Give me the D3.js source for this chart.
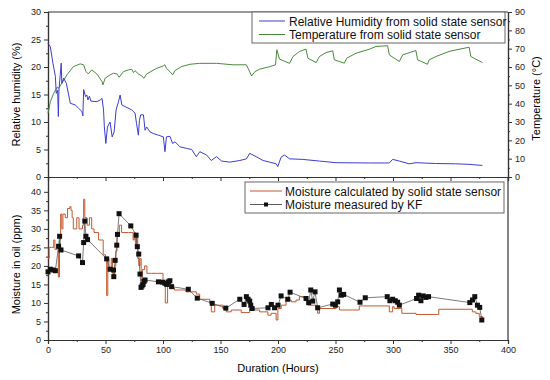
<!DOCTYPE html>
<html>
<head>
<meta charset="utf-8">
<script src="https://cdn.jsdelivr.net/npm/d3@7"></script>
<style>
  body { margin: 0; background: #fff; }
  svg { font-family: "Liberation Sans", Arial, sans-serif; }
</style>
</head>
<body>
<div id="chart"></div>
<script>
// relative humidity (%) vs hours
var rhHours = [0, 2, 4.3, 6.4, 7.2, 8.4, 9, 9.5, 11.5, 12, 13.6, 16, 18, 19.4, 23.7, 26.6, 29.5, 30.3, 31, 32.7, 33.8, 34.7, 36, 37.3, 42.5, 45.4, 47, 48.3, 49, 50.3, 51.7, 54, 55.8, 57.5, 59.2, 61.3, 62.7, 64.2, 67, 72.8, 75.7, 77, 78.6, 79.5, 80.6, 83, 84.4, 85.8, 88.7, 91.6, 96, 100.3, 101.7, 103, 106, 108.4, 110.4, 114.7, 120.5, 124.9, 129, 132, 137.9, 142, 146.5, 151, 158, 166.8, 172.5, 175.4, 181, 187, 192.8, 198.4, 199.8, 202.7, 205.6, 210, 221.5, 236, 250.5, 279.4, 296.8, 299.7, 305.5, 314, 320, 337, 354.5, 366, 377.7];
var rhValues = [24.3, 23.7, 20.7, 18.3, 15.2, 15.8, 11, 15.8, 20.7, 17, 18, 17, 14.9, 13.4, 13.1, 12.5, 11.9, 11.1, 15.9, 14.6, 14.9, 14, 14.7, 13.8, 13.7, 14, 14.3, 12.2, 9.1, 6.1, 9.1, 10, 7.3, 8.2, 12.2, 13.7, 14.9, 13.1, 12.8, 12.2, 11.6, 9.7, 7.6, 10.3, 11.3, 11.3, 8.5, 9.1, 8.2, 7.9, 7.6, 7.3, 4.6, 7.3, 7.4, 6.1, 6.4, 5.5, 5.2, 5, 3.7, 4.6, 4, 3, 3.7, 2.9, 2.7, 3, 3.3, 4.3, 3.7, 3, 2.7, 2.4, 1.9, 3.6, 4, 3.3, 3.2, 2.9, 2.6, 2.55, 2.55, 3.2, 2.9, 2.4, 2.6, 2.45, 2.4, 2.3, 2.1];

// temperature (°C) vs hours
var tHours = [0, 2, 4.9, 7.8, 9.2, 12, 16.5, 22, 28, 31, 33, 35, 38, 42.5, 47, 47.7, 49.7, 54, 57, 60, 61.8, 65.6, 70, 72.8, 74.3, 75.7, 78.6, 81.5, 83.5, 85.8, 94.5, 100.3, 101.7, 103, 106, 108.4, 110.4, 116, 123.4, 132, 146.5, 161, 172.5, 174, 177, 180, 184, 192.8, 197.8, 199, 201.3, 210, 213, 218.7, 224.4, 226, 233.2, 236, 241.8, 247.6, 249, 257.7, 259.7, 267.8, 279.4, 285.2, 295.3, 296.8, 305.5, 308.4, 319.9, 321.4, 330, 331.5, 337.3, 348.8, 366.2, 367.7, 377.8];
var tValues = [34.7, 41, 45.6, 48.9, 48.4, 51.1, 55.7, 60.2, 61.7, 61.2, 57.5, 56.2, 58.4, 56.2, 52, 50.2, 53.9, 55.7, 56.6, 56.2, 54.4, 57.5, 58.4, 58.8, 57, 58, 56.2, 55.1, 53.9, 56.2, 59.3, 60.6, 61.2, 59.3, 57.5, 55.7, 58, 60.2, 61.5, 62, 62, 61.2, 61.2, 59.3, 55.1, 57.5, 58.8, 60.2, 61.2, 69.4, 64.3, 62, 65.7, 68.5, 69.7, 64.8, 62.4, 65.7, 67.9, 68.8, 63.9, 62.1, 64.8, 67.5, 69.7, 71.2, 71.6, 66.6, 63, 66.6, 69, 63.9, 61.5, 63.9, 65.7, 68.5, 70.8, 65.7, 62.4];

// moisture calculated by sensor (ppm)
var calcHours = [0, 1, 3, 5, 6, 8, 9, 10, 11, 12, 13, 15, 17, 19, 20, 21, 22, 25, 27, 30, 31, 32, 34, 36, 38, 40, 44, 48, 50, 51, 52, 53, 55, 56, 57, 58, 59, 60, 62, 64, 70, 73, 74, 75, 76, 77, 78, 79, 80, 81, 82, 84, 86, 90, 95, 100, 101, 102, 104, 106, 110, 114.5, 120, 125, 129, 131.9, 140.6, 142, 145, 152, 155, 159.3, 168, 175.3, 179.6, 184, 191.2, 194, 198.4, 199.9, 202.8, 207, 211.4, 215.7, 218.6, 223, 225.9, 233, 234.5, 236, 244.7, 250.5, 253.4, 265, 270.7, 293.9, 296.8, 299.7, 301, 306.9, 307.7, 320, 339, 339.8, 367.7, 369, 372, 375, 378];
var calcValues = [22, 25, 25, 27, 24.5, 25, 17, 27, 34, 30, 34, 33, 35.5, 36, 35, 33, 30, 33, 30, 31, 38, 33, 31, 33, 30, 29, 27, 23, 22, 12, 22, 19, 22, 18, 17, 20, 24, 28, 31, 29, 29, 29, 27, 29, 25, 28, 22, 20, 22, 16, 19, 20, 18, 18, 18, 16, 15, 10, 16, 14, 13.5, 13.5, 13, 13, 12.4, 11, 9.9, 7.6, 9.4, 8.5, 7.6, 8.1, 7.4, 8.5, 8.1, 7.6, 6.7, 7.2, 5.4, 8.5, 9.4, 10.8, 10.3, 10.8, 11.7, 10.8, 9.4, 9, 7.2, 8.5, 8.5, 9, 8.1, 8.1, 9.2, 9.2, 7.6, 9, 8.5, 8.5, 7.2, 6.9, 6.9, 8.3, 8.3, 7.6, 7.2, 6.3, 5.8];

// moisture measured by KF (ppm)
var kfHours = [0, 2, 4.3, 6.4, 9.2, 10.1, 11.3, 26.6, 30, 31, 32, 33, 34.4, 51, 54, 57, 57.2, 58.4, 59.8, 60.4, 61.8, 72, 76.6, 77.7, 78.9, 80, 80.9, 81.8, 82.7, 83.5, 84.4, 96, 99.7, 101.7, 103.2, 104.6, 106, 107.5, 122, 129.8, 142.8, 154.6, 166.8, 170.5, 172.5, 174, 175.4, 176.3, 177.5, 191.3, 194.2, 197, 200, 202.7, 208.5, 210.5, 224.4, 226.7, 228.5, 230.2, 232.2, 234.5, 247.6, 249.9, 251.9, 253.4, 255.1, 257.1, 271.3, 275.9, 295, 297.3, 299.7, 302, 304, 305.5, 320.5, 322.3, 324.3, 326.3, 328.6, 330.9, 366.8, 369.1, 371.1, 373.4, 375.4, 377.2];
var kfValues = [18.4, 19.1, 18.9, 18.7, 25.3, 28, 24.3, 22.7, 20.9, 26.3, 32.1, 28, 27.1, 21.9, 19.1, 18.9, 17.1, 21.5, 25.6, 28.5, 34.1, 30.8, 28.3, 25.2, 23.2, 17.8, 14.2, 14.6, 15, 15.8, 16.2, 15.7, 15.6, 15.3, 15, 15.7, 16, 14.4, 13.7, 11.3, 9.9, 8.6, 11, 9.6, 11.7, 11, 10.5, 9.4, 8.5, 8.7, 9.6, 8.7, 9.4, 11.9, 11, 12.9, 11.2, 10.1, 13.5, 10.5, 13, 8.7, 9.7, 9.4, 10.3, 13.5, 12.1, 12.3, 10.2, 11.4, 11.7, 10.6, 11, 10.6, 10.2, 9.4, 11.2, 12.1, 10.6, 11.9, 11.5, 11.7, 10.1, 10.8, 11.7, 9.4, 8.8, 5.4];

var xTicks = [0, 50, 100, 150, 200, 250, 300, 350, 400];
var rhTicks = [0, 5, 10, 15, 20, 25, 30];
var tTicks = [0, 10, 20, 30, 40, 50, 60, 70, 80, 90];
var mTicks = [0, 5, 10, 15, 20, 25, 30, 35, 40];

var legendTop = ["Relative Humidity from solid state sensor", "Temperature from solid state sensor"];
var legendBottom = ["Moisture calculated by solid state sensor", "Moisture measured by KF"];

var W = 550, H = 380;
var left = 48, right = 508;
var topY0 = 12, midY = 177, botY = 340;
var blue = "#3c3cd2", green = "#4a8a3c", red = "#c4582e", kfGray = "#5a5a5a";

var svg = d3.select("#chart").append("svg").attr("width", W).attr("height", H);

var x = d3.scaleLinear().domain([0, 400]).range([left, right]);
var yRH = d3.scaleLinear().domain([0, 30]).range([midY, topY0]);
var yT = d3.scaleLinear().domain([0, 90]).range([midY, topY0]);
var yM = d3.scaleLinear().domain([0, 44]).range([botY, midY]);

function styleAxis(g) {
  g.selectAll(".domain").attr("stroke", "#333").attr("stroke-width", 1.2);
  g.selectAll(".tick line").attr("stroke", "#333");
  g.selectAll(".tick text").attr("font-size", 9).attr("fill", "#222");
}
function minor(vals) {
  var out = [];
  for (var i = 0; i < vals.length - 1; i++) out.push((vals[i] + vals[i + 1]) / 2);
  return out;
}

// --- minor ticks
svg.append("g").attr("transform", "translate(0," + midY + ")")
  .call(d3.axisBottom(x).tickValues(minor(xTicks)).tickSize(2).tickFormat("")).call(styleAxis);
svg.append("g").attr("transform", "translate(0," + botY + ")")
  .call(d3.axisBottom(x).tickValues(minor(xTicks)).tickSize(2).tickFormat("")).call(styleAxis);
svg.append("g").attr("transform", "translate(" + left + ",0)")
  .call(d3.axisLeft(yRH).tickValues(minor(rhTicks)).tickSize(2).tickFormat("")).call(styleAxis);
svg.append("g").attr("transform", "translate(" + right + ",0)")
  .call(d3.axisRight(yT).tickValues(minor(tTicks)).tickSize(2).tickFormat("")).call(styleAxis);
svg.append("g").attr("transform", "translate(" + left + ",0)")
  .call(d3.axisLeft(yM).tickValues(minor(mTicks)).tickSize(2).tickFormat("")).call(styleAxis);

// --- major axes
svg.append("g").attr("transform", "translate(0," + midY + ")")
  .call(d3.axisBottom(x).tickValues(xTicks).tickSize(4).tickFormat("")).call(styleAxis);
svg.append("g").attr("transform", "translate(0," + botY + ")")
  .call(d3.axisBottom(x).tickValues(xTicks).tickSize(4).tickPadding(3)).call(styleAxis);
svg.append("g").attr("transform", "translate(" + left + ",0)")
  .call(d3.axisLeft(yRH).tickValues(rhTicks).tickSize(4).tickPadding(3)).call(styleAxis);
svg.append("g").attr("transform", "translate(" + right + ",0)")
  .call(d3.axisRight(yT).tickValues(tTicks).tickSize(4).tickPadding(3)).call(styleAxis);
svg.append("g").attr("transform", "translate(" + left + ",0)")
  .call(d3.axisLeft(yM).tickValues(mTicks).tickSize(4).tickPadding(3)).call(styleAxis);

// frame lines
svg.append("line").attr("x1", left).attr("x2", right).attr("y1", topY0).attr("y2", topY0)
  .attr("stroke", "#333").attr("stroke-width", 1.2);
svg.append("line").attr("x1", right).attr("x2", right).attr("y1", midY).attr("y2", botY)
  .attr("stroke", "#333").attr("stroke-width", 1.2);

// --- lines
var lineRH = d3.line().x(function (d, i) { return x(rhHours[i]); }).y(function (d) { return yRH(d); });
var lineT = d3.line().x(function (d, i) { return x(tHours[i]); }).y(function (d) { return yT(d); });
var lineCalc = d3.line().curve(d3.curveStepAfter)
  .x(function (d, i) { return x(calcHours[i]); }).y(function (d) { return yM(d); });
var lineKF = d3.line().x(function (d, i) { return x(kfHours[i]); }).y(function (d) { return yM(d); });

svg.append("path").attr("d", lineT(tValues)).attr("fill", "none").attr("stroke", green).attr("stroke-width", 1);
svg.append("path").attr("d", lineRH(rhValues)).attr("fill", "none").attr("stroke", blue).attr("stroke-width", 1);
svg.append("path").attr("d", lineCalc(calcValues)).attr("fill", "none").attr("stroke", red).attr("stroke-width", 1);
svg.append("path").attr("d", lineKF(kfValues)).attr("fill", "none").attr("stroke", kfGray).attr("stroke-width", 0.8);
svg.selectAll("rect.kf").data(kfValues).enter().append("rect").attr("class", "kf")
  .attr("x", function (d, i) { return x(kfHours[i]) - 2.5; })
  .attr("y", function (d) { return yM(d) - 2.5; })
  .attr("width", 5).attr("height", 5).attr("fill", "#111");

// --- axis titles
svg.append("text").attr("transform", "translate(17," + ((topY0 + midY) / 2) + ") rotate(-90)")
  .attr("text-anchor", "middle").attr("dominant-baseline", "middle").attr("font-size", 11)
  .text("Relative humidity (%)");
svg.append("text").attr("transform", "translate(537," + ((topY0 + midY) / 2 + 4) + ") rotate(-90)")
  .attr("text-anchor", "middle").attr("dominant-baseline", "middle").attr("font-size", 11)
  .text("Temperature (°C)");
svg.append("text").attr("transform", "translate(17," + ((midY + botY) / 2 + 6) + ") rotate(-90)")
  .attr("text-anchor", "middle").attr("dominant-baseline", "middle").attr("font-size", 11)
  .text("Moisture in oil (ppm)");
svg.append("text").attr("x", 278).attr("y", 372).attr("text-anchor", "middle").attr("font-size", 11)
  .text("Duration (Hours)");

// --- legends
function legend(x0, y0, w, h, lx0, lx1, tx, labels, colors, marker) {
  var g = svg.append("g");
  g.append("rect").attr("x", x0).attr("y", y0).attr("width", w).attr("height", h)
    .attr("fill", "#fff").attr("stroke", "#666").attr("stroke-width", 1);
  labels.forEach(function (lab, i) {
    var yy = y0 + 9 + i * 13.5;
    g.append("line").attr("x1", lx0).attr("x2", lx1).attr("y1", yy).attr("y2", yy)
      .attr("stroke", colors[i]).attr("stroke-width", 1);
    if (marker[i]) g.append("rect").attr("x", (lx0 + lx1) / 2 - 2).attr("y", yy - 2).attr("width", 4).attr("height", 4).attr("fill", "#111");
    g.append("text").attr("x", tx).attr("y", yy + 4.5).attr("font-size", 12).attr("fill", "#111").text(lab);
  });
}
legend(252, 12, 253, 31, 259, 285, 289, legendTop, [blue, green], [false, false]);
legend(245, 182, 259, 31, 250, 282, 285, legendBottom, [red, kfGray], [false, true]);
</script>
</body>
</html>
